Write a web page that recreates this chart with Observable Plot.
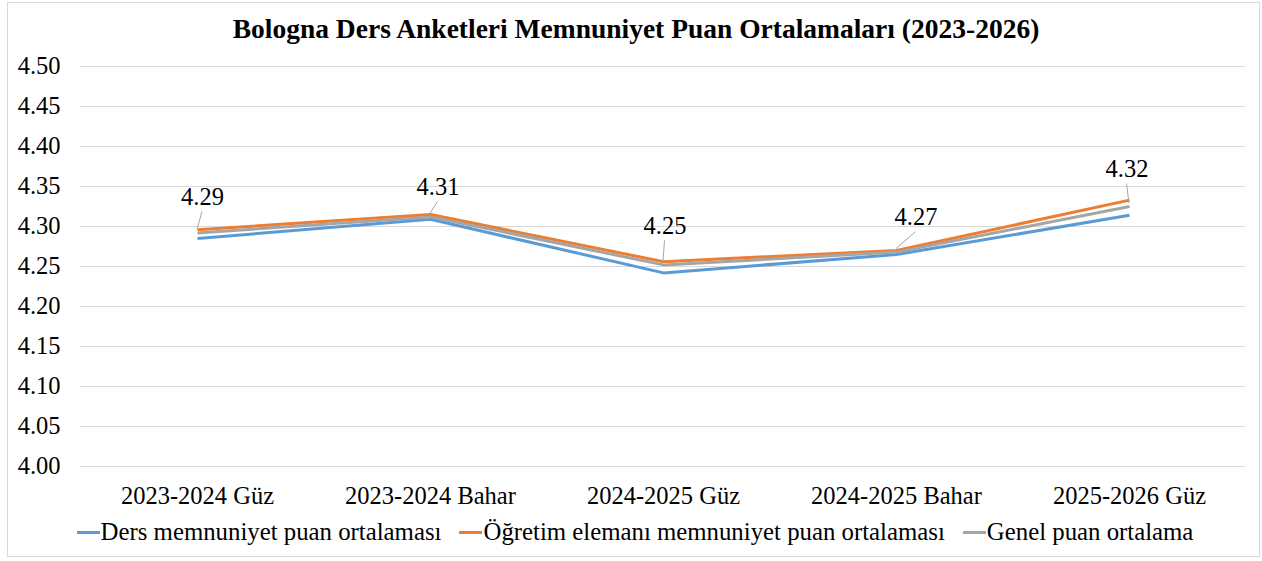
<!DOCTYPE html>
<html>
<head>
<meta charset="utf-8">
<script src="https://cdn.jsdelivr.net/npm/d3@7"></script>
<script src="https://cdn.jsdelivr.net/npm/@observablehq/plot@0.6"></script>
<style>
  html, body { margin: 0; padding: 0; background: #fff; }
  body { width: 1262px; height: 561px; position: relative; overflow: hidden;
         font-family: "Liberation Serif", "Times New Roman", serif; color: #000; }
  #frame { position: absolute; left: 7px; top: 2px; width: 1253px; height: 555px;
           border: 1px solid #d9d9d9; box-sizing: border-box; }
  #title { position: absolute; left: 0; top: 15px; width: 1272px; text-align: center;
           font-weight: bold; font-size: 27.5px; line-height: 27px; white-space: nowrap; }
  #chart { position: absolute; left: 0; top: 50px; }
  #legend { position: absolute; left: 0; top: 517px; width: 1270px; height: 30px;
            display: flex; justify-content: center; align-items: center;
            font-size: 24.8px; line-height: 30px; white-space: nowrap; }
  .item { display: flex; align-items: center; margin-right: 18px; }
  .item:last-child { margin-right: 0; }
  .sw { width: 23px; height: 3px; margin-right: 1px; }
</style>
</head>
<body>
<div id="frame"></div>
<div id="title">Bologna Ders Anketleri Memnuniyet Puan Ortalamaları (2023-2026)</div>
<div id="chart"></div>
<div id="legend"></div>
<script>
// ---- data ----
const categories = ["2023-2024 Güz", "2023-2024 Bahar", "2024-2025 Güz", "2024-2025 Bahar", "2025-2026 Güz"];
const seriesNames = ["Ders memnuniyet puan ortalaması", "Öğretim elemanı memnuniyet puan ortalaması", "Genel puan ortalama"];
const dersValues = [4.285, 4.309, 4.242, 4.265, 4.314];
const ogretimValues = [4.296, 4.315, 4.256, 4.270, 4.333];
const genelValues = [4.292, 4.312, 4.252, 4.268, 4.325];
const genelLabels = ["4.29", "4.31", "4.25", "4.27", "4.32"];
const yTicks = [4.00, 4.05, 4.10, 4.15, 4.20, 4.25, 4.30, 4.35, 4.40, 4.45, 4.50];

// ---- styles / layout ----
const colors = ["#5b9bd5", "#ed7d31", "#a5a5a5"];
const labelOffsets = [[5, -36], [7.5, -30], [1.5, -39], [19.5, -35], [-2.5, -37.5]];

const seriesValues = [dersValues, ogretimValues, genelValues];
const rows = seriesValues.flatMap((vals, s) =>
  categories.map((c, i) => ({cat: c, value: vals[i], series: seriesNames[s]})));

const labelRows = categories.map((c, i) => ({cat: c, value: genelValues[i], text: genelLabels[i]}));

const marks = [
  Plot.ruleY(yTicks, {stroke: "#d9d9d9", strokeWidth: 1}),
  Plot.axisY({ticks: yTicks, tickFormat: d3.format(".2f"), tickSize: 0, tickPadding: 20, label: null}),
  Plot.axisX({tickSize: 0, tickPadding: 20, label: null})
];
seriesNames.forEach((name, s) => {
  marks.push(Plot.line(rows.filter(r => r.series === name), {
    x: "cat", y: "value", stroke: colors[s], strokeWidth: 3,
    strokeLinejoin: "round", strokeLinecap: "butt"
  }));
});
labelRows.forEach((r, i) => {
  marks.push(Plot.text([r], {
    x: "cat", y: "value", text: "text",
    dx: labelOffsets[i][0], dy: labelOffsets[i][1],
    fontSize: 24.5, fill: "#000"
  }));
});

const plot = Plot.plot({
  width: 1262, height: 466,
  marginTop: 16, marginBottom: 50, marginLeft: 80, marginRight: 17,
  style: {fontFamily: "'Liberation Serif','Times New Roman',serif", fontSize: "24.5px",
          color: "#000", background: "transparent", overflow: "visible"},
  x: {type: "point", domain: categories, padding: 0.5, label: null},
  y: {domain: [4.0, 4.5], label: null},
  marks
});

// leader lines from each labelled point to its label, through the plot's scales
const xs = plot.scale("x"), ys = plot.scale("y");
const g = d3.select(plot).append("g").attr("stroke", "#a6a6a6").attr("stroke-width", 1);
labelRows.forEach((r, i) => {
  const px = xs.apply(r.cat), py = ys.apply(r.value);
  const lx = px + labelOffsets[i][0], ly = py + labelOffsets[i][1];
  g.append("line")
    .attr("x1", px).attr("y1", py - 3)
    .attr("x2", lx).attr("y2", ly + 15);
});

document.getElementById("chart").appendChild(plot);

// legend
const legend = document.getElementById("legend");
seriesNames.forEach((name, s) => {
  const it = document.createElement("div");
  it.className = "item";
  const sw = document.createElement("div");
  sw.className = "sw";
  sw.style.background = colors[s];
  const tx = document.createElement("span");
  tx.textContent = name;
  it.appendChild(sw); it.appendChild(tx);
  legend.appendChild(it);
});
</script>
</body>
</html>
